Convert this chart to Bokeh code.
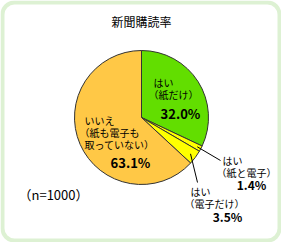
import math
from bokeh.plotting import figure
from bokeh.models import Range1d, BoxAnnotation, ColumnDataSource
from bokeh.core.properties import value
from bokeh.embed import file_html
from bokeh.resources import INLINE

# data
title = "新聞購読率"
categories = ["はい（紙だけ）", "はい（紙と電子）", "はい（電子だけ）", "いいえ（紙も電子も取っていない）"]
shares = [32.0, 1.4, 3.5, 63.1]
colors = ["#62de00", "#ffff00", "#ffff00", "#ffc846"]
pct_labels = ["32.0%", "1.4%", "3.5%", "63.1%"]
note = "（n=1000）"

W, H = 281, 242
FONT = "Noto Sans CJK JP"

p = figure(width=W, height=H, output_backend="svg", toolbar_location=None,
           x_range=Range1d(0, W), y_range=Range1d(0, H), min_border=0)
p.axis.visible = False
p.grid.visible = False
p.outline_line_color = None
p.background_fill_color = "white"
p.border_fill_color = "white"

def Y(py):
    return H - py

# border
p.add_layout(BoxAnnotation(left=2, right=W - 2, bottom=2, top=H - 2,
                           fill_alpha=0, line_color="#8fd26d", line_width=4,
                           border_radius=12))

# pie
cx, cy, r = 141, Y(117), 67
total = sum(shares)
starts, ends = [], []
acc = 0.0
for s in shares:
    a0 = math.pi / 2 - 2 * math.pi * acc / total
    acc += s
    a1 = math.pi / 2 - 2 * math.pi * acc / total
    starts.append(a0)
    ends.append(a1)
src = ColumnDataSource(dict(start=starts, end=ends, color=colors, cat=categories))
p.wedge(x=cx, y=cy, radius=r, start_angle="start", end_angle="end", direction="clock",
        fill_color="color", line_color="#333333", line_width=1, source=src)

# leader lines
mid1 = (starts[1] + ends[1]) / 2
mid2 = (starts[2] + ends[2]) / 2
p.segment(x0=[cx + (r - 4) * math.cos(mid1), cx + (r - 6) * math.cos(mid2)],
          y0=[cy + (r - 4) * math.sin(mid1), cy + (r - 6) * math.sin(mid2)],
          x1=[220, 197], y1=[Y(160), Y(182)], line_color="black", line_width=1)

def txt(x, py, s, size="10px", bold=False, align="left"):
    p.text(x=[x], y=[Y(py)], text=[s], text_font=value(FONT), text_font_size=size,
           text_font_style="bold" if bold else "normal", text_align=align,
           text_baseline="middle", text_color="black")

txt(141, 21, title, size="12px", align="center")

txt(153, 82, "はい")
txt(148, 94, "（紙だけ）")
txt(180, 113, pct_labels[0], size="13px", bold=True, align="center")

txt(222, 160, "はい")
txt(216, 172, "（紙と電子）")
txt(251, 184, pct_labels[1], size="12px", bold=True, align="center")

txt(190, 191, "はい")
txt(184, 203, "（電子だけ）")
txt(227, 216, pct_labels[2], size="12px", bold=True, align="center")

txt(84, 120, "いいえ")
txt(79, 132, "（紙も電子も")
txt(84, 144, "取っていない）")
txt(130, 162, pct_labels[3], size="13px", bold=True, align="center")

txt(18, 194, note, size="13px")

open("out.html", "w").write(file_html(p, INLINE))
